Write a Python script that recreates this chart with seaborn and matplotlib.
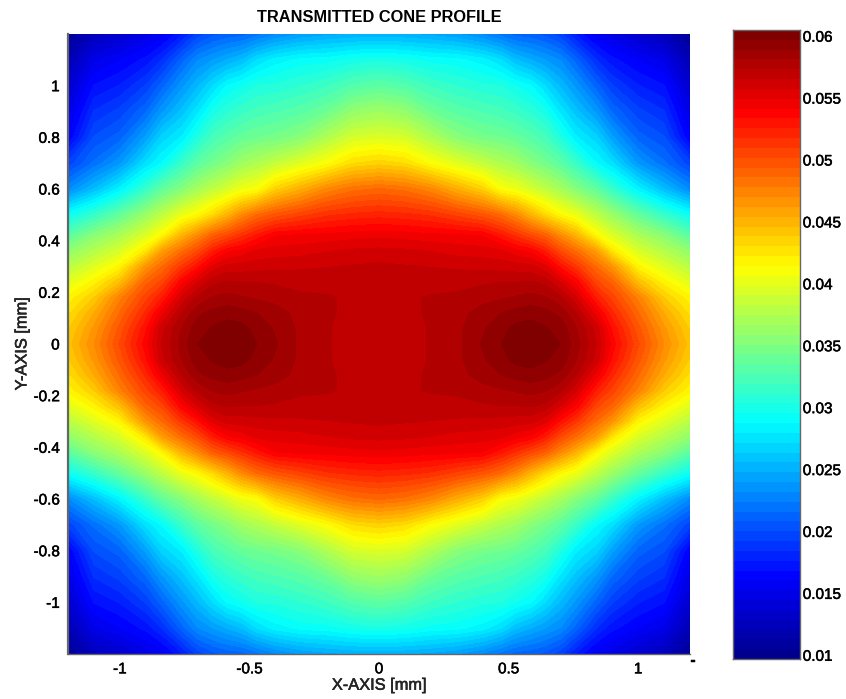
"""Transmitted cone profile, filled contour with a jet colour bar."""
import matplotlib
matplotlib.use("Agg")
import matplotlib.patheffects as pe
import matplotlib.pyplot as plt
import numpy as np
import seaborn as sns
from matplotlib.colors import LinearSegmentedColormap

# one quadrant of the field, mirrored in both axes
x_coords = [0.0, 0.1, 0.2, 0.3, 0.4, 0.47, 0.53, 0.585, 0.64, 0.7, 0.76, 0.84, 0.9, 1.0, 1.1, 1.2]
y_coords = [0.0, 0.06, 0.12, 0.18, 0.24, 0.3, 0.36, 0.42, 0.5, 0.6, 0.7, 0.8, 0.9, 1.0, 1.1, 1.2]
row000 = [.0569, .0569, .0574, .0579, .0590, .0597, .0603, .0605, .0602, .0597, .0585, .0565, .0538, .0503, .0470, .0442]
row006 = [.0569, .0569, .0574, .0579, .0588, .0594, .0600, .0601, .0598, .0594, .0582, .0562, .0532, .0497, .0464, .0437]
row012 = [.0569, .0570, .0575, .0578, .0585, .0589, .0592, .0594, .0592, .0587, .0574, .0545, .0520, .0487, .0454, .0428]
row018 = [.0569, .0572, .0574, .0575, .0578, .0580, .0582, .0584, .0582, .0575, .0559, .0524, .0506, .0475, .0438, .0417]
row024 = [.0569, .0570, .0570, .0570, .0572, .0573, .0573, .0574, .0571, .0557, .0539, .0504, .0490, .0445, .0418, .0398]
row030 = [.0567, .0566, .0565, .0564, .0563, .0562, .0561, .0560, .0552, .0531, .0512, .0485, .0465, .0417, .0397, .0378]
row036 = [.0560, .0559, .0557, .0554, .0553, .0551, .0544, .0539, .0525, .0502, .0485, .0459, .0425, .0394, .0376, .0358]
row042 = [.0547, .0546, .0544, .0543, .0541, .0528, .0515, .0503, .0492, .0471, .0450, .0415, .0396, .0372, .0355, .0332]
row050 = [.0522, .0520, .0516, .0507, .0497, .0486, .0470, .0450, .0432, .0415, .0403, .0380, .0363, .0337, .0314, .0293]
row060 = [.0487, .0483, .0472, .0453, .0435, .0411, .0404, .0393, .0382, .0369, .0353, .0335, .0314, .0283, .0256, .0230]
row070 = [.0435, .0430, .0412, .0398, .0384, .0374, .0366, .0354, .0345, .0333, .0315, .0288, .0273, .0238, .0218, .0195]
row080 = [.0396, .0392, .0374, .0355, .0346, .0343, .0338, .0331, .0322, .0303, .0281, .0266, .0242, .0212, .0201, .0160]
row090 = [.0366, .0360, .0342, .0332, .0326, .0322, .0316, .0309, .0299, .0277, .0259, .0237, .0215, .0195, .0185, .0148]
row100 = [.0334, .0329, .0318, .0311, .0305, .0303, .0295, .0288, .0272, .0254, .0237, .0211, .0193, .0177, .0169, .0135]
row110 = [.0301, .0298, .0292, .0290, .0283, .0272, .0256, .0248, .0240, .0231, .0212, .0184, .0171, .0160, .0150, .0120]
row120 = [.0249, .0248, .0245, .0240, .0230, .0220, .0212, .0210, .0205, .0195, .0175, .0155, .0148, .0135, .0125, .0105]
quadrant = [row000, row006, row012, row018, row024, row030, row036, row042, row050,
            row060, row070, row080, row090, row100, row110, row120]

x_ticks = [-1, -0.5, 0, 0.5, 1]
y_ticks = [-1, -0.8, -0.6, -0.4, -0.2, 0, 0.2, 0.4, 0.6, 0.8, 1]
cbar_ticks = [0.01, 0.015, 0.02, 0.025, 0.03, 0.035, 0.04, 0.045, 0.05, 0.055, 0.06]
VMIN, VMAX = 0.0097, 0.0605

sns.set_style("ticks")
plt.rcParams.update({"font.family": ["Liberation Sans"], "font.size": 11,
                     "axes.linewidth": 1.0, "axes.edgecolor": "#666666",
                     "xtick.direction": "in", "ytick.direction": "in",
                     "text.color": "black", "xtick.color": "black", "ytick.color": "black"})

half = np.array(quadrant)
top = np.hstack([half[:, :0:-1], half])
z = np.vstack([top[:0:-1], top])
xc = np.array(x_coords)
yc = np.array(y_coords)
x_axis = np.concatenate([-xc[:0:-1], xc])
y_axis = np.concatenate([-yc[:0:-1], yc])

# MATLAB's jet, its nodes sit a little off matplotlib's
cmap = LinearSegmentedColormap.from_list("matlab_jet", [
    (0.0, (0, 0, 0.5625)), (0.125, (0, 0, 1)), (0.375, (0, 1, 1)),
    (0.625, (1, 1, 0)), (0.875, (1, 0, 0)), (1.0, (0.5, 0, 0))], N=64)
levels = np.linspace(VMIN, VMAX, 65)

fig = plt.figure(figsize=(8.46, 6.99), dpi=100)
W, H = 846, 699
ax = fig.add_axes([68 / W, 1 - 654 / H, 622 / W, 620 / H])
ax.contourf(x_axis, y_axis, z, levels=levels, cmap=cmap, extend="both")
ax.set_xlim(-1.2, 1.2)
ax.set_ylim(-1.2, 1.2)
ax.set_xticks(x_ticks)
ax.set_xticklabels(["-1", "-0.5", "0", "0.5", "1"])
ax.set_yticks(y_ticks)
ax.set_yticklabels(["-1", "-0.8", "-0.6", "-0.4", "-0.2", "0", "0.2", "0.4", "0.6", "0.8", "1"])
ax.tick_params(length=3, width=0.8, pad=6)
ax.set_title("TRANSMITTED CONE PROFILE", fontsize=11.8, fontweight="bold", pad=9)
ax.set_xlabel("X-AXIS [mm]", fontsize=11.8, labelpad=1)
ax.set_ylabel("Y-AXIS [mm]", fontsize=11.8, labelpad=3)
ax.spines["top"].set_visible(False)
ax.spines["right"].set_visible(False)
ax.spines["left"].set_linewidth(1.6)
stray = fig.text(693 / W, 1 - 661 / H, "-", fontsize=11, ha="center", va="center")

cax = fig.add_axes([733 / W, 1 - 659 / H, 67 / W, 629 / H])
gradient = np.linspace(VMIN, VMAX, 64).reshape(-1, 1)
sns.heatmap(gradient, ax=cax, cmap=cmap, vmin=VMIN, vmax=VMAX, cbar=False,
            xticklabels=False, yticklabels=False)
cax.invert_yaxis()
cax.set_yticks([(t - VMIN) / (VMAX - VMIN) * 64 for t in cbar_ticks])
cax.set_yticklabels([f"{t:g}" for t in cbar_ticks], rotation=0)
cax.yaxis.tick_right()
cax.tick_params(axis="y", length=6, width=0.8, pad=2, direction="in")
for spine in cax.spines.values():
    spine.set_visible(True)
    spine.set_linewidth(1.0)

# the reference text is a little heavier than regular weight
heavier = [pe.withStroke(linewidth=0.35, foreground="black")]
labels = ax.get_xticklabels() + ax.get_yticklabels() + cax.get_yticklabels()
for label in labels + [ax.xaxis.label, ax.yaxis.label, stray]:
    label.set_path_effects(heavier)

fig.savefig("out.png", dpi=100)
